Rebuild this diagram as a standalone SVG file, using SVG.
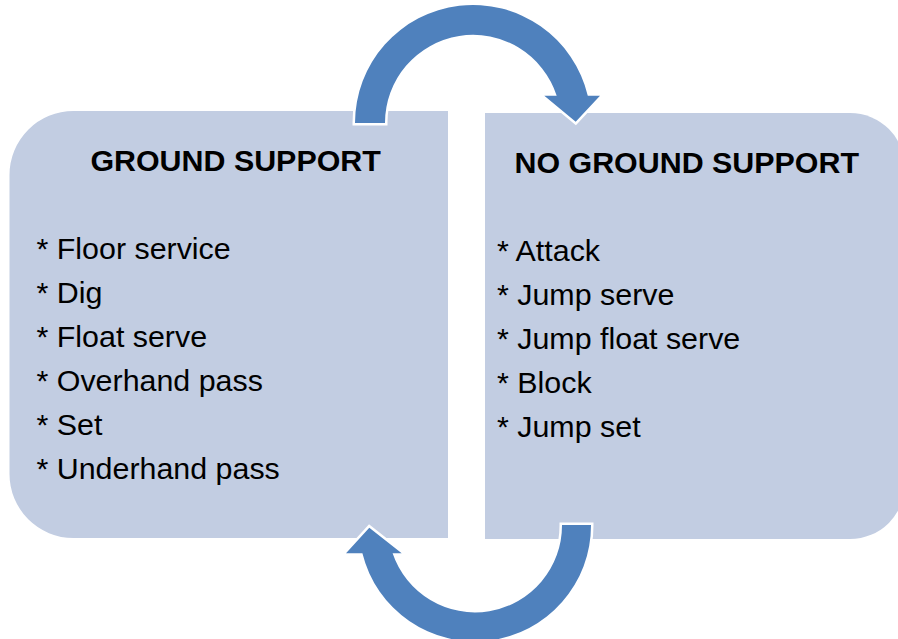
<svg xmlns="http://www.w3.org/2000/svg" width="898" height="639" viewBox="0 0 898 639">
  <style>
    .box { fill: #C2CDE2; }
    .title { font-family: "Liberation Sans", Arial, sans-serif; font-weight: bold; font-size: 30.4px; fill: #000; }
    .item { font-family: "Liberation Sans", Arial, sans-serif; font-size: 30.4px; fill: #000; }
    .arrow { fill: #4F81BD; stroke: #FFFFFF; stroke-width: 5; paint-order: stroke; stroke-linejoin: miter; }
  </style>
  <rect width="898" height="639" fill="#FFFFFF"/>
  <g id="ground-support">
    <path class="box" d="M 73.5 111 L 448 111 L 448 538 L 73.5 538 A 64 64 0 0 1 9.5 474 L 9.5 175 A 64 64 0 0 1 73.5 111 Z"/>
    <text class="title" x="90.4" y="170.7">GROUND SUPPORT</text>
    <text class="item" x="36.5" y="259.3">* Floor service</text>
    <text class="item" x="36.5" y="303.3">* Dig</text>
    <text class="item" x="36.5" y="347.3">* Float serve</text>
    <text class="item" x="36.5" y="391.3">* Overhand pass</text>
    <text class="item" x="36.5" y="435.3">* Set</text>
    <text class="item" x="36.5" y="479.3">* Underhand pass</text>
  </g>
  <g id="no-ground-support">
    <path class="box" d="M 485 113 L 850 113 A 55 55 0 0 1 905 168 L 905 484 A 55 55 0 0 1 850 539 L 485 539 Z"/>
    <text class="title" x="514.5" y="173.3">NO GROUND SUPPORT</text>
    <text class="item" x="497" y="260.5">* Attack</text>
    <text class="item" x="497" y="304.5">* Jump serve</text>
    <text class="item" x="497" y="348.5">* Jump float serve</text>
    <text class="item" x="497" y="392.5">* Block</text>
    <text class="item" x="497" y="436.5">* Jump set</text>
  </g>
  <g id="connectors">
    <path id="arrow-top" class="arrow" d="M 355 123 A 118 118 0 0 1 587.8 95.7 L 600 95.7 L 575.7 121.7 L 544.3 95.7 L 556.7 95.7 A 88 88 0 0 0 385 123 Z"/>
    <path id="arrow-bottom" class="arrow" d="M 591 525 A 116 116 0 0 1 362.4 553.3 L 346 553.3 L 369.3 527.7 L 401.7 553.3 L 392.6 553.3 A 87 87 0 0 0 562 525 Z"/>
  </g>
</svg>
